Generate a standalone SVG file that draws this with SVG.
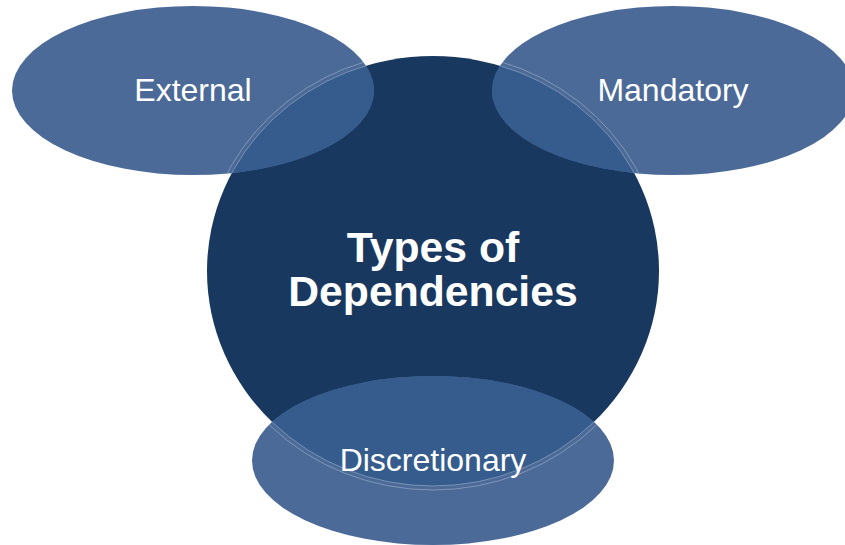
<svg xmlns="http://www.w3.org/2000/svg" width="845" height="545" viewBox="0 0 845 545">
  <style>
    .lbl { font-family: "Liberation Sans", Arial, sans-serif; font-size: 32px; fill: #ffffff; text-anchor: middle; }
    .title { font-family: "Liberation Sans", Arial, sans-serif; font-size: 42.7px; font-weight: bold; fill: #ffffff; text-anchor: middle; }
    .ell { fill: #4b6a98; }
    .ovl { fill: #355c8c; }
    .seam { fill: none; stroke: #a9b9d3; stroke-width: 0.8; stroke-opacity: 0.7; }
  </style>
  <defs>
    <clipPath id="cExt"><ellipse cx="193" cy="90.5" rx="181" ry="84.5"/></clipPath>
    <clipPath id="cMan"><ellipse cx="673" cy="90.5" rx="181" ry="84.5"/></clipPath>
    <clipPath id="cDis"><ellipse cx="433" cy="460.5" rx="181" ry="84.5"/></clipPath>
  </defs>
  <rect width="845" height="545" fill="#ffffff"/>

  <g id="core">
    <ellipse cx="433" cy="271" rx="226" ry="215" fill="#19385f"/>
  </g>

  <g id="external">
    <ellipse class="ell" cx="193" cy="90.5" rx="181" ry="84.5"/>
    <g clip-path="url(#cExt)">
      <ellipse class="ovl" cx="433" cy="271" rx="226" ry="215"/>
      <ellipse class="seam" cx="433" cy="271" rx="226" ry="215"/>
      <ellipse class="seam" cx="433" cy="271" rx="230" ry="219"/>
    </g>
    <text class="lbl" x="193" y="101">External</text>
  </g>

  <g id="mandatory">
    <ellipse class="ell" cx="673" cy="90.5" rx="181" ry="84.5"/>
    <g clip-path="url(#cMan)">
      <ellipse class="ovl" cx="433" cy="271" rx="226" ry="215"/>
      <ellipse class="seam" cx="433" cy="271" rx="226" ry="215"/>
      <ellipse class="seam" cx="433" cy="271" rx="230" ry="219"/>
    </g>
    <text class="lbl" x="673" y="101">Mandatory</text>
  </g>

  <g id="discretionary">
    <ellipse class="ell" cx="433" cy="460.5" rx="181" ry="84.5"/>
    <g clip-path="url(#cDis)">
      <ellipse class="ovl" cx="433" cy="271" rx="226" ry="215"/>
      <ellipse class="seam" cx="433" cy="271" rx="226" ry="215"/>
      <ellipse class="seam" cx="433" cy="271" rx="230" ry="219"/>
    </g>
    <text class="lbl" x="433" y="471">Discretionary</text>
  </g>

  <g id="title">
    <text class="title" x="433" y="262">Types of</text>
    <text class="title" x="433" y="306">Dependencies</text>
  </g>

  <g id="connectors"></g>
</svg>
